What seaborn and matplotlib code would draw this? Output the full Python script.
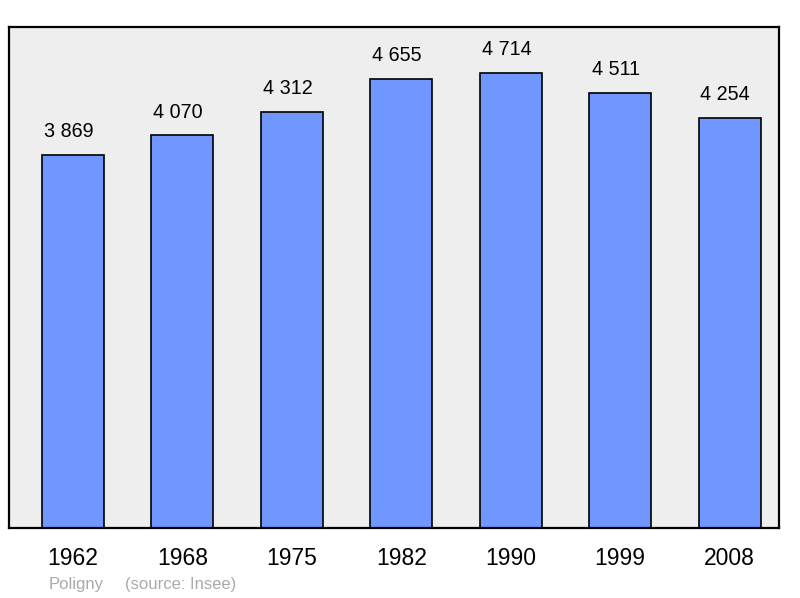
import matplotlib
matplotlib.use("Agg")
import matplotlib.pyplot as plt
import seaborn as sns
import pandas as pd

years = ["1962", "1968", "1975", "1982", "1990", "1999", "2008"]
population = [3869, 4070, 4312, 4655, 4714, 4511, 4254]
footer_town = "Poligny"
footer_source = "(source: Insee)"

sns.set_theme(style="white")
plt.rcParams["font.family"] = ["Liberation Sans", "DejaVu Sans"]

df = pd.DataFrame({"year": years, "pop": population})

fig = plt.figure(figsize=(8, 5.98), dpi=100)
ax = fig.add_axes([9/800, (598-528)/598, 770/800, (528-27)/598])
ax.set_facecolor("#eeeeee")

sns.barplot(data=df, x="year", y="pop", color="#7096ff", saturation=1,
            width=0.567, edgecolor="black", linewidth=1.2, ax=ax)

ax.set_xlim(-0.585, 6.452)
ax.set_ylim(0, 5195)
ax.set_xlabel("")
ax.set_ylabel("")
ax.set_yticks([])
ax.tick_params(axis="x", length=0, labelsize=16.5, pad=14, colors="black")
for s in ax.spines.values():
    s.set_color("black")
    s.set_linewidth(1.6)

for i, v in enumerate(population):
    ax.annotate(f"{v:,}".replace(",", " "), (i, v), xytext=(-3, 10),
                textcoords="offset points", ha="center", va="bottom",
                fontsize=14.2, color="black")

fig.text(49/800, 1 - 584/598, footer_town, fontsize=12, color="#aaaaaa",
         ha="left", va="center")
fig.text(125/800, 1 - 584/598, footer_source, fontsize=12, color="#aaaaaa",
         ha="left", va="center")

fig.savefig("out.png", dpi=100)
